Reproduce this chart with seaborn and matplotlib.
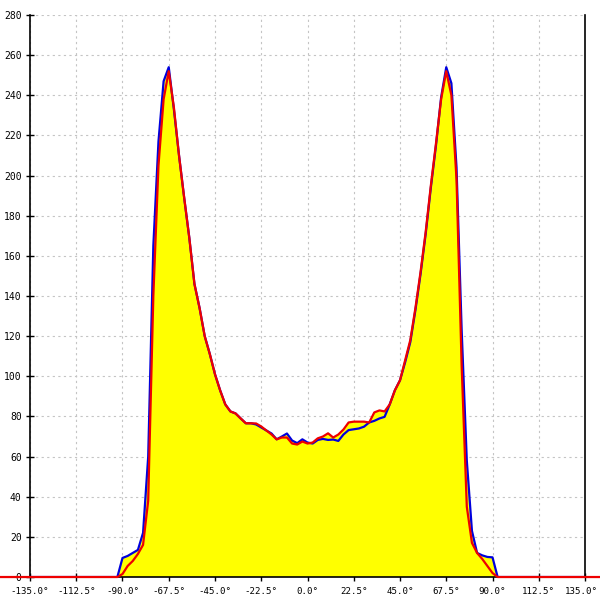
import numpy as np
import pandas as pd
import matplotlib
matplotlib.use("Agg")
import matplotlib.pyplot as plt
import matplotlib.transforms as mtransforms
import seaborn as sns

# angle grid (degrees)
angles = [-150, -92.5, -90, -87.5, -85, -82.5, -80, -77.5, -75, -72.5, -70,
          -67.5, -65, -62.5, -60, -57.5, -55, -52.5, -50, -47.5, -45, -42.5,
          -40, -37.5, -35, -32.5, -30, -27.5, -25, -22.5, -20, -17.5, -15,
          -12.5, -10, -7.5, -5, -2.5, 0, 2.5, 5, 7.5, 10, 12.5, 15, 17.5, 20,
          22.5, 25, 27.5, 30, 32.5, 35, 37.5, 40, 42.5, 45, 47.5, 50, 52.5,
          55, 57.5, 60, 62.5, 65, 67.5, 70, 72.5, 75, 77.5, 80, 82.5, 85,
          87.5, 90, 92.5, 150]

blue = [0, 0, 9.5, 10.5, 12, 13.5, 22, 60, 165, 217, 247,
        254, 233, 210, 189, 169, 146, 134, 120, 111, 101, 93,
        86, 82.5, 81.5, 79, 76.6, 76.6, 76, 74.5, 73, 71.5, 68.6,
        70, 71.5, 68, 66.7, 68.6, 67, 66.5, 68.3, 68.8, 68.3, 68.5, 67.8, 71, 73.2,
        73.6, 74, 74.9, 77, 77.8, 79, 79.8, 86, 93, 98, 107, 117, 133,
        151, 171, 194, 215, 239, 254, 246, 204, 123, 58, 23, 12, 10.8,
        10, 9.8, 0, 0]

red = [0, 0, 1.5, 5.5, 8, 11.5, 16, 38, 140, 205, 238,
       252, 234, 210, 189, 169, 146, 134, 120, 111, 101, 93,
       86, 82.5, 81.5, 79, 76.6, 76.6, 76.5, 75, 73, 71, 68.6,
       69.5, 69.5, 66.5, 66, 67.5, 66.5, 67, 69.1, 70, 71.6, 69.5, 71, 73.5, 77,
       77.4, 77.4, 77.4, 77, 82, 83, 82.5, 86, 93, 98, 108, 118, 134,
       152, 172, 195, 216, 238, 252, 240, 198, 105, 35, 17, 12, 9,
       5.5, 2, 0, 0]

x_ticks = np.arange(-135, 135.1, 22.5)
y_ticks = np.arange(0, 281, 20)

df = pd.DataFrame({"angle": angles, "blue": blue, "red": red})

sns.set_theme(style="white")
plt.rcParams["font.family"] = ["DejaVu Sans Mono"]

fig = plt.figure(figsize=(6, 6), dpi=100)
ax = fig.add_axes([0.05, 0.0383, 0.925, 0.9367])

ax.fill_between(df["angle"], df["blue"], color="#ffff00", linewidth=0, zorder=2)
ax.fill_between(df["angle"], df["red"], color="#ffff00", linewidth=0, zorder=2)

sns.lineplot(data=df, x="angle", y="blue", color="#0000dd", linewidth=1.6,
             ax=ax, zorder=3)
sns.lineplot(data=df, x="angle", y="red", color="#ee0000", linewidth=1.6,
             ax=ax, zorder=4, clip_on=False)

ax.set_xlim(-135, 135)
ax.set_ylim(0, 280)
ax.set_xticks(x_ticks)
ax.set_xticklabels([f"{v:.1f}°" for v in x_ticks])
ax.set_yticks(y_ticks)
ax.set_yticklabels([f"{v}" for v in y_ticks])
ax.set_xlabel("")
ax.set_ylabel("")

ax.grid(True, color="#c4c4c4", linestyle=(0, (2, 3)), linewidth=0.8)
ax.set_axisbelow(True)

for side in ["left", "right", "bottom"]:
    ax.spines[side].set_visible(True)
    ax.spines[side].set_color("black")
    ax.spines[side].set_linewidth(1.2)
ax.spines["top"].set_visible(False)

ax.tick_params(axis="y", direction="inout", length=6, width=1, colors="black",
               labelsize=7, pad=3, left=True)
ax.tick_params(axis="x", direction="inout", length=6, width=1, colors="black",
               labelsize=6.6, pad=4, bottom=True)

# keep the last x label inside the canvas
last = ax.get_xticklabels()[-1]
last.set_transform(last.get_transform() +
                   mtransforms.ScaledTranslation(-4 / 100, 0, fig.dpi_scale_trans))

fig.savefig("out.png", dpi=100)
plt.close(fig)
